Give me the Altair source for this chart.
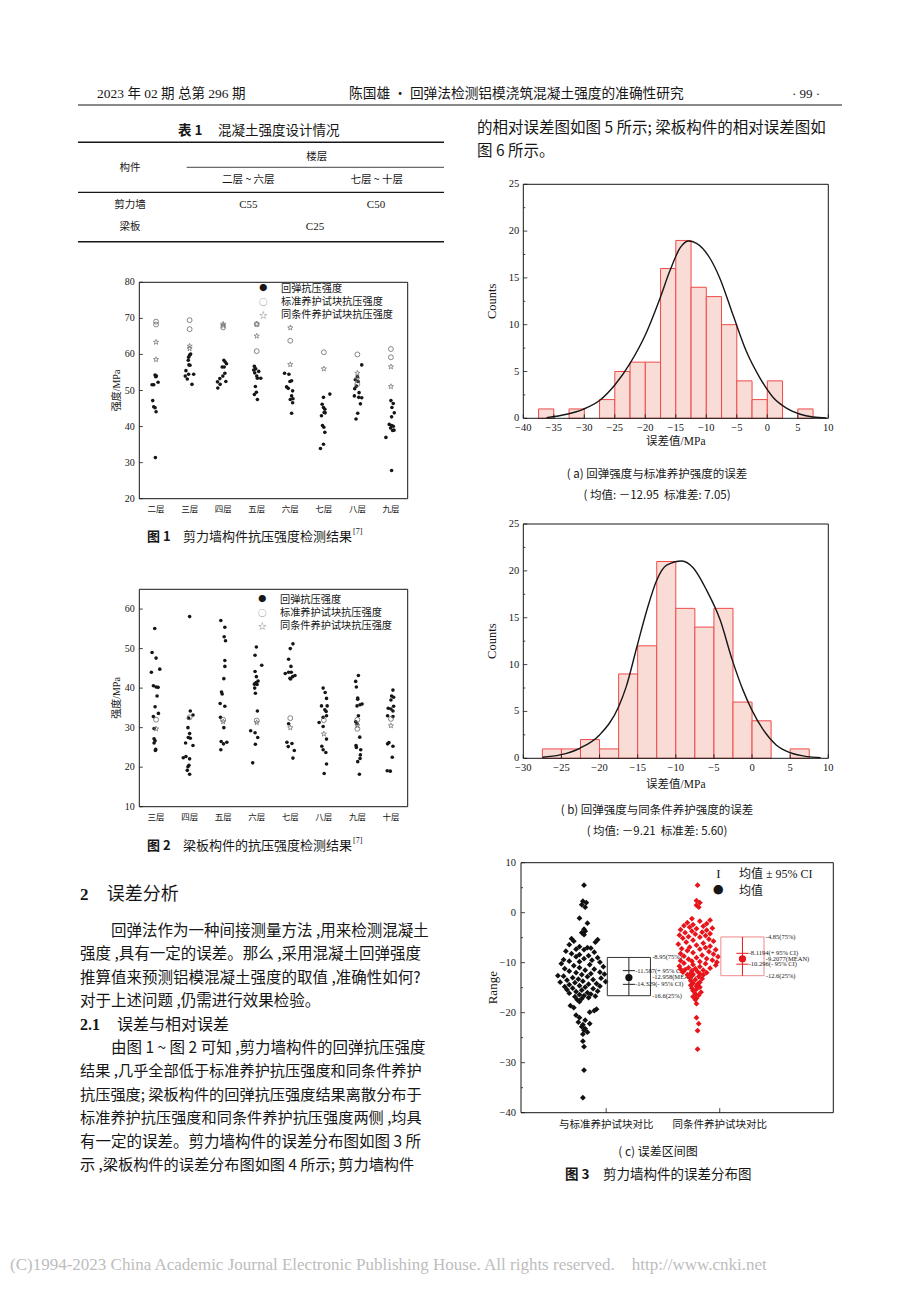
import json
import altair as alt
import pandas as pd

PAGE_W, PAGE_H, MARGIN = 920, 1302, 8
W, H = PAGE_W - 2 * MARGIN, PAGE_H - 2 * MARGIN


def P(v):
    return v - MARGIN


SANS = "Noto Sans CJK SC"
SERIF = "Liberation Serif"
MIX = "Liberation Serif, Noto Sans CJK SC"
INK = "#161616"
GRAY = "#6a6a6a"

# ------------------------------------------------------------------ data
floors_fig1 = ["二层", "三层", "四层", "五层", "六层", "七层", "八层", "九层"]
floors_fig2 = ["三层", "四层", "五层", "六层", "七层", "八层", "九层", "十层"]
series_names = ["回弹抗压强度", "标准养护试块抗压强度", "同条件养护试块抗压强度"]

fig1_reb_value = [
    [54.3, 54.0, 53.8, 52.3, 51.6, 51.6, 47.2, 45.5, 45.2, 44.1, 31.4],
    [60.1, 59.8, 59.2, 58.4, 57.1, 57.0, 55.5, 54.5, 54.5, 54.0, 53.2, 51.7],
    [58.4, 57.9, 57.4, 56.5, 56.5, 54.8, 54.0, 53.3, 52.5, 52.4, 51.7, 50.7],
    [56.7, 56.0, 55.7, 55.3, 54.9, 54.0, 53.4, 53.4, 51.1, 49.5, 48.9, 47.5],
    [54.8, 54.5, 52.7, 52.5, 51.0, 50.6, 49.9, 48.5, 47.7, 47.5, 46.6, 43.7],
    [49.0, 48.1, 46.2, 45.3, 44.8, 43.9, 43.8, 43.0, 40.3, 39.8, 38.4, 35.1, 33.9],
    [57.1, 53.8, 53.0, 52.5, 51.2, 50.5, 49.4, 48.5, 48.1, 48.0, 46.3, 43.7, 42.1],
    [47.2, 46.4, 45.3, 43.8, 42.7, 40.6, 40.3, 40.1, 39.6, 39.0, 38.9, 37.0, 27.8],
]
fig1_reb_jitter = [
    [-0.03, 0.01, -0.01, 0.06, -0.07, -0.12, -0.10, -0.07, -0.03, 0.00, -0.02],
    [0.03, 0.00, -0.03, -0.04, -0.02, 0.01, -0.11, -0.03, 0.12, -0.13, -0.07, 0.07],
    [0.02, 0.06, 0.10, -0.03, 0.03, 0.05, -0.01, -0.10, 0.08, -0.17, -0.09, -0.16],
    [-0.07, -0.03, -0.09, 0.06, -0.06, 0.00, 0.02, 0.12, -0.04, -0.01, -0.07, 0.02],
    [-0.17, -0.04, 0.04, -0.01, -0.11, -0.06, 0.07, 0.04, 0.08, 0.00, 0.07, 0.04],
    [0.18, -0.01, -0.05, -0.01, 0.03, 0.01, 0.04, -0.07, -0.04, 0.00, 0.03, -0.01, -0.10],
    [0.13, 0.00, -0.06, 0.02, -0.03, -0.08, 0.05, -0.09, 0.04, 0.13, 0.09, 0.01, -0.04],
    [0.00, 0.07, 0.03, 0.10, 0.02, -0.05, 0.02, 0.07, -0.01, 0.09, 0.05, -0.15, 0.02],
]
fig1_std_value = [[69.1, 68.3], [69.5, 67.0], [67.5], [68.4, 60.9], [63.8], [60.6], [60.0, 51.8], [61.5, 59.2]]
fig1_same_value = [[63.4, 58.6], [62.3, 61.6], [68.4, 68.0], [68.4, 65.1], [67.4, 57.2], [56.0], [54.8, 53.3], [56.6, 51.1]]

fig2_reb_value = [
    [55.1, 49.0, 47.6, 44.8, 44.0, 40.6, 40.3, 40.2, 38.0, 35.3, 33.6, 32.8, 29.8, 27.2, 26.7, 26.1, 24.5, 24.2],
    [58.1, 34.2, 33.2, 32.4, 30.0, 28.5, 27.5, 27.3, 25.5, 26.1, 22.7, 22.4, 22.1, 20.5, 20.1, 19.2, 18.2],
    [57.1, 55.4, 53.0, 52.0, 47.0, 45.5, 42.4, 39.0, 38.5, 36.1, 35.4, 32.6, 30.0, 26.5, 26.3, 25.9, 24.4],
    [50.4, 48.3, 45.8, 44.2, 42.9, 41.8, 41.4, 41.0, 40.9, 40.0, 38.7, 34.2, 29.2, 28.7, 27.5, 25.8, 21.1],
    [51.2, 50.0, 47.3, 45.5, 44.0, 44.0, 43.7, 43.2, 42.9, 42.5, 42.3, 31.0, 26.3, 26.0, 25.2, 24.2, 22.3],
    [40.0, 38.9, 37.4, 35.5, 35.5, 34.5, 34.1, 33.0, 32.6, 31.3, 30.3, 27.1, 25.3, 24.4, 23.7, 20.8, 18.4],
    [43.2, 41.7, 40.3, 37.5, 37.2, 36.0, 35.8, 35.5, 33.0, 31.5, 31.0, 27.6, 25.5, 25.0, 24.4, 23.1, 22.2, 21.4, 18.2],
    [39.5, 38.0, 37.7, 37.0, 35.4, 34.9, 34.7, 34.2, 33.0, 32.8, 26.2, 25.9, 25.3, 22.5, 19.1, 19.0],
]
fig2_reb_jitter = [
    [-0.04, -0.12, 0.00, 0.11, -0.14, -0.08, 0.00, 0.06, 0.03, -0.03, 0.07, -0.08, -0.06, -0.06, -0.03, -0.06, -0.01, -0.02],
    [0.00, 0.02, 0.10, -0.03, -0.05, 0.00, -0.04, 0.02, 0.10, -0.12, -0.11, -0.19, 0.00, -0.02, -0.05, -0.07, 0.00],
    [-0.07, 0.05, 0.03, 0.07, 0.05, 0.05, 0.02, -0.05, -0.03, -0.09, 0.05, -0.08, 0.02, -0.06, 0.11, 0.01, -0.07],
    [-0.01, -0.05, 0.15, -0.05, -0.01, 0.04, -0.02, -0.07, 0.01, -0.06, -0.04, 0.02, -0.18, -0.05, 0.03, -0.04, -0.12],
    [0.08, 0.00, -0.05, 0.02, -0.05, 0.03, -0.15, 0.14, 0.07, -0.01, 0.01, -0.05, -0.10, 0.05, -0.06, 0.12, 0.08],
    [-0.02, 0.04, 0.08, -0.07, 0.10, 0.03, 0.07, 0.08, -0.02, -0.14, -0.02, 0.08, -0.06, -0.02, 0.06, 0.08, 0.01],
    [0.03, -0.05, -0.03, 0.01, 0.01, 0.14, 0.08, -0.01, 0.03, -0.05, -0.01, 0.07, -0.04, -0.03, 0.10, 0.09, 0.08, 0.01, 0.06],
    [0.06, 0.02, 0.08, 0.00, 0.08, -0.08, 0.00, 0.06, -0.10, 0.06, -0.06, -0.10, 0.06, 0.04, -0.11, -0.02],
]
fig2_std_value = [[32.0], [32.6], [32.0], [31.8], [32.4], [31.9], [32.0, 29.7], [32.2]]
fig2_same_value = [[29.7], [], [31.5], [31.3], [30.0], [28.4], [30.5], [30.5]]

# histograms (bin width 2.5)
f3a_bin_start = [-37.5, -35, -32.5, -30, -27.5, -25, -22.5, -20, -17.5, -15, -12.5, -10, -7.5, -5, -2.5, 0, 2.5, 5]
f3a_counts = [1, 0, 1, 0, 2, 5, 6, 6, 16, 19, 14, 13, 10, 4, 2, 4, 0, 1]
f3a_curve_x = [-36.2, -32.9, -30.2, -27.4, -25.0, -22.5, -20.0, -17.6, -16.0, -14.3, -12.95, -11.6, -9.4, -7.8, -5.6, -3.4, -1.2, 1.0, 3.2, 5.4, 7.5, 9.7]
f3a_curve_y = [0.07, 0.43, 0.96, 1.96, 3.56, 5.88, 8.9, 12.8, 15.7, 18.2, 18.95, 18.7, 17.1, 15.0, 11.0, 7.1, 4.3, 2.2, 1.07, 0.43, 0.14, 0.04]

f3b_bin_start = [-27.5, -25, -22.5, -20, -17.5, -15, -12.5, -10, -7.5, -5, -2.5, 0, 2.5, 5]
f3b_counts = [1, 1, 2, 1, 9, 12, 21, 16, 14, 16, 6, 4, 0, 1]
f3b_curve_x = [-27.5, -25.2, -22.6, -20.0, -17.5, -16.5, -15.1, -13.8, -12.5, -11.2, -9.2, -7.7, -6.0, -4.2, -2.6, -1.2, -0.05, 1.5, 3.2, 5.0, 7.2, 9.0]
f3b_curve_y = [0.11, 0.36, 1.07, 2.49, 5.51, 7.65, 11.9, 15.8, 19.0, 20.6, 21.05, 20.3, 18.0, 14.8, 10.5, 7.3, 5.2, 3.0, 1.4, 0.6, 0.18, 0.07]

# interval plot
cmp_categories = ["与标准养护试块对比", "同条件养护试块对比"]
cmp_std_value = [5.5, 2.3, 2.0, 1.6, 1.1, -1.1, -2.1, -3.3, -3.7, -4.0, -4.4,
                 -5.2, -5.4, -5.7, -5.9, -6.4, -6.8, -7.0, -7.1, -7.3, -7.4,
                 -7.7, -7.9, -8.2, -8.4, -8.6, -8.8, -9.0, -9.2, -9.4, -9.5, -9.7, -9.8, -9.9,
                 -10.2, -10.4, -10.6, -10.8, -11.0, -11.2, -11.3, -11.5, -11.7, -11.9, -12.0, -12.2, -12.3, -12.4,
                 -12.6, -12.7, -12.8, -13.0, -13.1, -13.3, -13.4, -13.5, -13.7, -13.8, -13.9, -14.0, -14.2, -14.3,
                 -14.4, -14.6, -14.7, -14.8, -14.9,
                 -15.1, -15.2, -15.4, -15.5, -15.7, -15.8, -16.0, -16.1, -16.3, -16.4, -16.6, -16.7, -16.8, -17.0,
                 -17.2, -17.4,
                 -17.8, -18.6, -19.0, -19.3, -19.6, -19.9, -20.5, -21.0, -21.5, -21.9, -22.2, -22.4,
                 -22.8, -23.2, -23.5, -23.9, -24.3, -25.7, -26.8, -31.5, -37.0]
cmp_std_jitter = [0.00, -0.01, 0.02, -0.02, 0.01, -0.04, 0.03, 0.00, 0.01, -0.02, 0.00,
                  -0.11, 0.12, -0.09, 0.10, -0.13, -0.04, 0.03, 0.06, -0.07, 0.00,
                  -0.16, 0.09, -0.11, -0.04, 0.04, -0.07, 0.12, 0.00, -0.18, 0.07, -0.13, -0.04, 0.14,
                  -0.20, 0.05, -0.09, 0.17, -0.04, -0.17, 0.09, 0.01, -0.13, 0.14, -0.07, 0.06, 0.18, -0.02,
                  -0.23, -0.18, 0.03, -0.10, 0.15, -0.05, 0.08, -0.15, -0.01, 0.19, -0.21, -0.08, 0.11, 0.04,
                  -0.13, -0.04, 0.14, -0.17, 0.01,
                  -0.10, 0.08, -0.15, -0.02, 0.12, -0.07, 0.03, -0.13, 0.06, -0.04, 0.00, 0.10, -0.08, 0.04,
                  -0.02, -0.06,
                  -0.04, -0.12, -0.09, 0.11, 0.09, 0.05, -0.07, -0.04, 0.01, -0.05, 0.05, -0.01,
                  -0.02, 0.01, 0.00, 0.03, -0.01, -0.01, 0.00, 0.00, -0.01]
cmp_same_value = [5.5, 2.4, 2.0, 1.5, 1.1, -1.2, -1.5, -1.7, -2.0, -2.2, -2.4,
                  -2.6, -2.7, -2.9, -3.1, -3.2, -3.4, -3.5, -3.7, -3.9, -4.0, -4.2, -4.3, -4.5, -4.6, -4.8, -4.9,
                  -5.1, -5.3, -5.5, -5.7, -5.9, -6.1, -6.3, -6.5, -6.7, -6.9, -7.0, -7.2, -7.3, -7.4,
                  -7.6, -7.8, -8.0, -8.2, -8.3, -8.5, -8.7, -8.8, -9.0, -9.2, -9.3, -9.5, -9.6, -9.7, -9.8, -9.9,
                  -10.1, -10.2, -10.4, -10.5, -10.7, -10.8, -11.0, -11.1, -11.2, -11.3, -11.4, -11.5, -11.6, -11.8,
                  -11.9, -12.0, -12.1, -12.2, -12.3, -12.4, -12.45,
                  -12.6, -12.8, -13.0, -13.2, -13.4, -13.6, -13.9, -14.1, -14.3, -14.5, -14.7, -14.9,
                  -15.1, -15.3, -15.6, -15.9, -16.2, -16.5, -16.8, -17.1, -17.4,
                  -18.2, -21.0, -22.2, -23.6, -27.3]
cmp_same_jitter = [0.00, -0.01, 0.02, -0.01, 0.01, -0.05, 0.11, 0.02, -0.09, 0.08, -0.04,
                   -0.12, 0.05, -0.07, 0.13, -0.01, -0.15, 0.08, -0.05, 0.04, -0.11, 0.11, -0.02, -0.16, 0.07, -0.08, 0.02,
                   -0.13, 0.10, -0.04, 0.14, -0.10, 0.05, -0.17, -0.01, 0.11, -0.07, 0.07, -0.14, 0.02, 0.16,
                   -0.09, 0.10, -0.04, -0.15, 0.14, 0.04, -0.12, 0.18, -0.01, 0.08, -0.08, 0.13, -0.15, -0.05, 0.02, 0.17,
                   -0.12, 0.07, -0.04, 0.16, -0.16, 0.02, -0.08, 0.11, -0.02, -0.15, -0.11, 0.05, -0.05, 0.00,
                   -0.13, 0.08, -0.06, 0.02, -0.04, -0.09, 0.05,
                   -0.05, 0.01, -0.07, 0.04, -0.02, -0.06, 0.02, -0.04, 0.00, -0.06, -0.01, 0.02,
                   -0.05, -0.01, -0.04, 0.03, -0.02, 0.01, -0.04, -0.01, -0.02,
                   -0.01, -0.01, 0.01, 0.00, 0.00]
cmp_q75 = [-8.95, -4.85]
cmp_ci_hi = [-11.587, -8.1194]
cmp_mean = [-12.958, -9.2077]
cmp_ci_lo = [-14.329, -10.296]
cmp_q25 = [-16.6, -12.6]
cmp_labels = [
    ["-8.95(75%)", "-11.587(+ 95% CI)", "-12.958(MEAN)", "-14.329(- 95% CI)", "-16.6(25%)"],
    ["-4.85(75%)", "-8.1194(+ 95% CI)", "-9.2077(MEAN)", "-10.296(- 95% CI)", "-12.6(25%)"],
]

STAR = "M0,-1L0.235,-0.324L0.951,-0.309L0.38,0.124L0.588,0.809L0,0.4L-0.588,0.809L-0.38,0.124L-0.951,-0.309L-0.235,-0.324Z"

# ------------------------------------------------------------------ helpers
ONE = pd.DataFrame({"k": [0]})


def txt(x, y, s, size=15.5, font=SANS, align="left", weight="normal", color=INK, angle=0):
    return alt.Chart(ONE).mark_text(
        fontSize=size, font=font, align=align, baseline="middle", fontWeight=weight, color=color,
        angle=angle
    ).encode(x=alt.value(P(x)), y=alt.value(P(y)), text=alt.value(s))


def hrule(x1, x2, y, w=1.0, color=INK):
    return alt.Chart(ONE).mark_rule(color=color, strokeWidth=w).encode(
        x=alt.value(P(x1)), x2=alt.value(P(x2)), y=alt.value(P(y)))


def panel(xdom, xrng, ydom, yrng):
    return {
        "xdom": xdom, "ydom": ydom, "xrng": xrng, "yrng": yrng,
        "xs": alt.Scale(domain=xdom, range=[P(xrng[0]), P(xrng[1])], nice=False, zero=False),
        "ys": alt.Scale(domain=ydom, range=[P(yrng[0]), P(yrng[1])], nice=False, zero=False),
        "ux": (xdom[1] - xdom[0]) / (xrng[1] - xrng[0]),
        "uy": (ydom[1] - ydom[0]) / (yrng[0] - yrng[1]),
    }


def X(pn, field):
    return alt.X(field, type="quantitative", scale=pn["xs"], axis=None)


def Y(pn, field):
    return alt.Y(field, type="quantitative", scale=pn["ys"], axis=None)


def XD(pn, v):
    return alt.XDatum(v, type="quantitative", scale=pn["xs"], axis=None)


def YD(pn, v):
    return alt.YDatum(v, type="quantitative", scale=pn["ys"], axis=None)


def frame(pn):
    return alt.Chart(ONE).mark_rect(fillOpacity=0, stroke=INK, strokeWidth=1).encode(
        x=XD(pn, pn["xdom"][0]), x2=alt.X2Datum(pn["xdom"][1]),
        y=YD(pn, pn["ydom"][0]), y2=alt.Y2Datum(pn["ydom"][1]),
    )


def left_ticks(pn, vals, length_px):
    x0 = pn["xdom"][0]
    return alt.Chart(pd.DataFrame({"v": vals})).mark_rule(color=INK, strokeWidth=0.8).encode(
        y=Y(pn, "v"), x=XD(pn, x0), x2=alt.X2Datum(x0 + length_px * pn["ux"]))


def bottom_ticks(pn, vals, length_px):
    y0 = pn["ydom"][0]
    return alt.Chart(pd.DataFrame({"v": vals})).mark_rule(color=INK, strokeWidth=0.8).encode(
        x=X(pn, "v"), y=YD(pn, y0), y2=alt.Y2Datum(y0 + length_px * pn["uy"]))


def num_label(v):
    s = ("%g" % v)
    return s.replace("-", "\u2212")


def y_labels(pn, vals, size=10, font=SERIF, dx=-4):
    df = pd.DataFrame({"v": vals, "t": [num_label(v) for v in vals]})
    return alt.Chart(df).mark_text(align="right", baseline="middle", dx=dx, font=font,
                                   fontSize=size, color=INK).encode(
        y=Y(pn, "v"), x=XD(pn, pn["xdom"][0]), text="t:N")


def x_labels(pn, vals, texts, size=10, font=SERIF, dy=10):
    df = pd.DataFrame({"v": vals, "t": texts})
    return alt.Chart(df).mark_text(align="center", baseline="middle", dy=dy, font=font,
                                   fontSize=size, color=INK).encode(
        x=X(pn, "v"), y=YD(pn, pn["ydom"][0]), text="t:N")


def floor_df(values, jitters=None):
    rows = []
    for i, vals in enumerate(values):
        for j, v in enumerate(vals):
            dx = jitters[i][j] if jitters else 0.0
            rows.append({"x": i + 1 + dx, "v": v})
    return pd.DataFrame(rows, columns=["x", "v"])


# ------------------------------------------------------------------ strength panels
def strength_panel(pn, floors, reb_v, reb_j, std_v, same_v, yvals):
    reb = alt.Chart(floor_df(reb_v, reb_j)).mark_circle(size=13, color=INK, opacity=1).encode(
        x=X(pn, "x"), y=Y(pn, "v"))
    std = alt.Chart(floor_df(std_v)).mark_point(
        shape="circle", size=24, filled=False, color=GRAY, strokeWidth=0.8, opacity=1
    ).encode(x=X(pn, "x"), y=Y(pn, "v"))
    same = alt.Chart(floor_df(same_v)).mark_point(
        shape=STAR, size=30, filled=False, color=GRAY, strokeWidth=0.7, opacity=1
    ).encode(x=X(pn, "x"), y=Y(pn, "v"))
    return alt.layer(
        frame(pn), left_ticks(pn, yvals, 3.5),
        y_labels(pn, yvals, size=10, dx=-4.5),
        x_labels(pn, list(range(1, 9)), floors, size=8.5, font=SANS, dy=9.8),
        reb, std, same)


def legend_block(x_sym, x_txt, ys):
    out = [txt(x_sym, ys[0], "●", 8, SANS, "center", color=INK),
           txt(x_sym, ys[1], "○", 8.5, SANS, "center", color=GRAY),
           txt(x_sym, ys[2], "☆", 8.5, SANS, "center", color=GRAY)]
    for y, s in zip(ys, series_names):
        out.append(txt(x_txt, y, s, 10.2, SANS))
    return out


F1 = panel([0.5, 8.5], [139.3, 407.7], [20, 80], [498.7, 282.3])
F2 = panel([0.5, 8.5], [139.3, 407.7], [10, 65], [806.7, 589.3])

fig1 = strength_panel(F1, floors_fig1, fig1_reb_value, fig1_reb_jitter, fig1_std_value,
                      fig1_same_value, [20, 30, 40, 50, 60, 70, 80])
fig2 = strength_panel(F2, floors_fig2, fig2_reb_value, fig2_reb_jitter, fig2_std_value,
                      fig2_same_value, [10, 20, 30, 40, 50, 60])


# ------------------------------------------------------------------ histograms
def hist_panel(pn, starts, counts, cx, cy, xvals):
    df = pd.DataFrame({"x0": starts, "c": counts})
    df["x1"] = df["x0"] + 2.5
    df = df[df["c"] > 0]
    bars = alt.Chart(df).mark_rect(fill="#f9dcd5", stroke="#ee4a4a", strokeWidth=1).encode(
        x=X(pn, "x0"), x2="x1", y=Y(pn, "c"), y2=alt.Y2Datum(0))
    curve = alt.Chart(pd.DataFrame({"x": cx, "y": cy})).mark_line(
        color=INK, strokeWidth=1.4, interpolate="monotone").encode(x=X(pn, "x"), y=Y(pn, "y"))
    yv = [0, 5, 10, 15, 20, 25]
    return alt.layer(
        bars, curve, frame(pn),
        left_ticks(pn, yv, 4), left_ticks(pn, [2.5, 7.5, 12.5, 17.5, 22.5], 2),
        bottom_ticks(pn, xvals, 4),
        y_labels(pn, yv, size=10.5, dx=-4),
        x_labels(pn, xvals, [num_label(v) for v in xvals], size=10.5, dy=10),
    )


F3A = panel([-40, 10], [523.3, 828.3], [0, 25], [418.3, 184.3])
F3B = panel([-30, 10], [523.3, 828.3], [0, 25], [758.3, 524.0])
fig3a = hist_panel(F3A, f3a_bin_start, f3a_counts, f3a_curve_x, f3a_curve_y,
                   [-40, -35, -30, -25, -20, -15, -10, -5, 0, 5, 10])
fig3b = hist_panel(F3B, f3b_bin_start, f3b_counts, f3b_curve_x, f3b_curve_y,
                   [-30, -25, -20, -15, -10, -5, 0, 5, 10])

# ------------------------------------------------------------------ interval plot
F3C = panel([0.25, 3.0], [521, 833.3], [-40, 10], [1112.7, 862.7])


def group_layers(g, vals, jit, pt_color, box_color, line_color):
    pn = F3C
    cat = g + 1
    pts_df = pd.DataFrame({"x": [cat - 0.195 + j for j in jit], "v": vals})
    pts = alt.Chart(pts_df).mark_point(shape="diamond", size=34, filled=True, color=pt_color,
                                       opacity=1).encode(x=X(pn, "x"), y=Y(pn, "v"))
    st = pd.DataFrame({"x0": [cat + 0.01], "x1": [cat + 0.39], "xm": [cat + 0.2],
                       "c0": [cat + 0.147], "c1": [cat + 0.253],
                       "q25": [cmp_q25[g]], "q75": [cmp_q75[g]], "m": [cmp_mean[g]],
                       "lo": [cmp_ci_lo[g]], "hi": [cmp_ci_hi[g]]})
    box = alt.Chart(st).mark_rect(fillOpacity=0, stroke=box_color, strokeWidth=1).encode(
        x=X(pn, "x0"), x2="x1", y=Y(pn, "q25"), y2="q75")
    vline = alt.Chart(st).mark_rule(color=line_color, strokeWidth=1).encode(
        x=X(pn, "xm"), y=Y(pn, "q25"), y2="q75")
    cap_hi = alt.Chart(st).mark_rule(color=line_color, strokeWidth=1).encode(
        x=X(pn, "c0"), x2="c1", y=Y(pn, "hi"))
    cap_lo = alt.Chart(st).mark_rule(color=line_color, strokeWidth=1).encode(
        x=X(pn, "c0"), x2="c1", y=Y(pn, "lo"))
    dot = alt.Chart(st).mark_circle(size=52, color=pt_color, opacity=1).encode(
        x=X(pn, "xm"), y=Y(pn, "m"))
    lab = pd.DataFrame({
        "x": [cat + 0.405, cat + 0.255, cat + 0.405, cat + 0.255, cat + 0.405],
        "y": [cmp_q75[g], cmp_ci_hi[g], cmp_mean[g], cmp_ci_lo[g], cmp_q25[g]],
        "t": cmp_labels[g]})
    labels = alt.Chart(lab).mark_text(align="left", baseline="middle", font=SERIF, fontSize=6.5,
                                      color=INK).encode(x=X(pn, "x"), y=Y(pn, "y"), text="t:N")
    return [pts, box, vline, cap_hi, cap_lo, dot, labels]


fig3c = alt.layer(
    frame(F3C),
    left_ticks(F3C, [-40, -30, -20, -10, 0, 10], 4),
    left_ticks(F3C, [-35, -25, -15, -5, 5], 2),
    bottom_ticks(F3C, [1, 2], 4.5),
    y_labels(F3C, [-40, -30, -20, -10, 0, 10], size=10.5, dx=-5),
    x_labels(F3C, [1, 2], cmp_categories, size=10.5, font=SANS, dy=12.5),
    *group_layers(0, cmp_std_value, cmp_std_jitter, "#111111", "#333333", "#222222"),
    *group_layers(1, cmp_same_value, cmp_same_jitter, "#e8141b", "#f08a8a", "#e8141b"),
)

# ------------------------------------------------------------------ page text
NB = "\u00a0"
body_y = [931, 954.4, 977.8, 1001.2, 1024.6, 1048.0, 1071.4, 1094.8, 1118.2, 1141.6, 1165.0]

texts = [
    # running header
    txt(97, 93.5, "2023 年 02 期 总第 296 期", 13.5, MIX),
    txt(349, 93.5, "陈国雄 · 回弹法检测铝模浇筑混凝土强度的准确性研究", 13.7, SANS),
    txt(806, 93.5, "· 99 ·", 13, MIX, "center"),
    hrule(78, 842, 105, 1.2),
    # table 1
    txt(178, 130.7, "表 1", 13.5, SANS, weight="bold"),
    txt(218, 130.7, "混凝土强度设计情况", 13.5, SANS),
    hrule(78, 444, 142.3, 1.5),
    txt(130, 168.3, "构件", 10.5, SANS, "center"),
    txt(316.7, 157.3, "楼层", 10.5, SANS, "center"),
    hrule(186.7, 444, 167.3, 0.8),
    txt(248.3, 180, "二层 ~ 六层", 10.5, SANS, "center"),
    txt(376.7, 180, "七层 ~ 十层", 10.5, SANS, "center"),
    hrule(78, 444, 192.3, 1.2),
    txt(130, 205, "剪力墙", 10.5, SANS, "center"),
    txt(248.3, 205, "C55", 11, SERIF, "center"),
    txt(376, 205, "C50", 11, SERIF, "center"),
    txt(130, 227, "梁板", 10.5, SANS, "center"),
    txt(315, 227, "C25", 11, SERIF, "center"),
    hrule(78, 444, 241.7, 1.5),
    # axis titles
    txt(117.3, 390.5, "强度/MPa", 10, MIX, "center", angle=270),
    txt(117.3, 698, "强度/MPa", 10, MIX, "center", angle=270),
    txt(491.7, 301.3, "Counts", 12.5, SERIF, "center", angle=270),
    txt(675.8, 441.7, "误差值/MPa", 11.5, MIX, "center"),
    txt(491.7, 641.2, "Counts", 12.5, SERIF, "center", angle=270),
    txt(675.8, 785, "误差值/MPa", 11.5, MIX, "center"),
    txt(493.3, 987.7, "Range", 13, SERIF, "center", angle=270),
    # figure captions (left column)
    txt(147, 537, "图 1", 13, SANS, weight="bold"),
    txt(183, 537, "剪力墙构件抗压强度检测结果", 13, SANS),
    txt(353, 532, "[7]", 8, SERIF),
    txt(147, 846, "图 2", 13, SANS, weight="bold"),
    txt(183, 846, "梁板构件的抗压强度检测结果", 13, SANS),
    txt(353, 841, "[7]", 8, SERIF),
    # section 2
    txt(80, 895, "2", 17, SERIF, weight="bold"),
    txt(106.7, 895, "误差分析", 18, SANS),
    txt(111, body_y[0], "回弹法作为一种间接测量方法 ,用来检测混凝土", 15.5),
    txt(80, body_y[1], "强度 ,具有一定的误差。那么 ,采用混凝土回弹强度", 15.5),
    txt(80, body_y[2], "推算值来预测铝模混凝土强度的取值 ,准确性如何?", 15.5),
    txt(80, body_y[3], "对于上述问题 ,仍需进行效果检验。", 15.5),
    txt(80, body_y[4], "2.1", 16, SERIF, weight="bold"),
    txt(117, body_y[4], "误差与相对误差", 16, SANS),
    txt(111, body_y[5], "由图 1 ~ 图 2 可知 ,剪力墙构件的回弹抗压强度", 15.5),
    txt(80, body_y[6], "结果 ,几乎全部低于标准养护抗压强度和同条件养护", 15.2),
    txt(80, body_y[7], "抗压强度; 梁板构件的回弹抗压强度结果离散分布于", 15.2),
    txt(80, body_y[8], "标准养护抗压强度和同条件养护抗压强度两侧 ,均具", 15.2),
    txt(80, body_y[9], "有一定的误差。剪力墙构件的误差分布图如图 3 所", 15.5),
    txt(80, body_y[10], "示 ,梁板构件的误差分布图如图 4 所示; 剪力墙构件", 15.2),
    # right column text
    txt(477, 128, "的相对误差图如图 5 所示; 梁板构件的相对误差图如", 15.5),
    txt(477, 151, "图 6 所示。", 15.5),
    # figure 3 captions
    txt(657, 475, "( a) 回弹强度与标准养护强度的误差", 11.5, SANS, "center"),
    txt(657, 496, "( 均值: －12.95" + NB + NB + "标准差: 7.05)", 11.5, SANS, "center"),
    txt(657, 811, "( b) 回弹强度与同条件养护强度的误差", 11.5, SANS, "center"),
    txt(657, 832, "( 均值: －9.21" + NB + NB + "标准差: 5.60)", 11.5, SANS, "center"),
    txt(658, 1151.5, "( c) 误差区间图", 12, SANS, "center"),
    txt(565, 1175, "图 3", 13.5, SANS, weight="bold"),
    txt(603, 1175, "剪力墙构件的误差分布图", 13.5, SANS),
    # interval plot legend
    txt(718.3, 873.5, "I", 13, SERIF, "center"),
    txt(739, 873.5, "均值 ± 95% CI", 12, MIX),
    txt(718.3, 891, "●", 10.5, SANS, "center"),
    txt(739, 891, "均值", 12, SANS),
    # footer
    txt(10, 1265, "(C)1994-2023 China Academic Journal Electronic Publishing House. All rights reserved."
        + NB * 4 + "http://www.cnki.net", 17, SERIF, color="#bdbdbd"),
]

legends = legend_block(263.3, 281, [288.6, 301.6, 314.6]) + legend_block(262.3, 280, [599.6, 612.6, 625.6])

chart = alt.layer(
    fig1, fig2, fig3a, fig3b, fig3c, *texts, *legends, data=ONE
).resolve_scale(
    x="independent", y="independent"
).properties(
    width=W, height=H, autosize=alt.AutoSizeParams(type="none"), padding=0, background="white"
).configure_view(strokeWidth=0)

chart.save("out.html", embed_options={"renderer": "svg", "actions": False})
